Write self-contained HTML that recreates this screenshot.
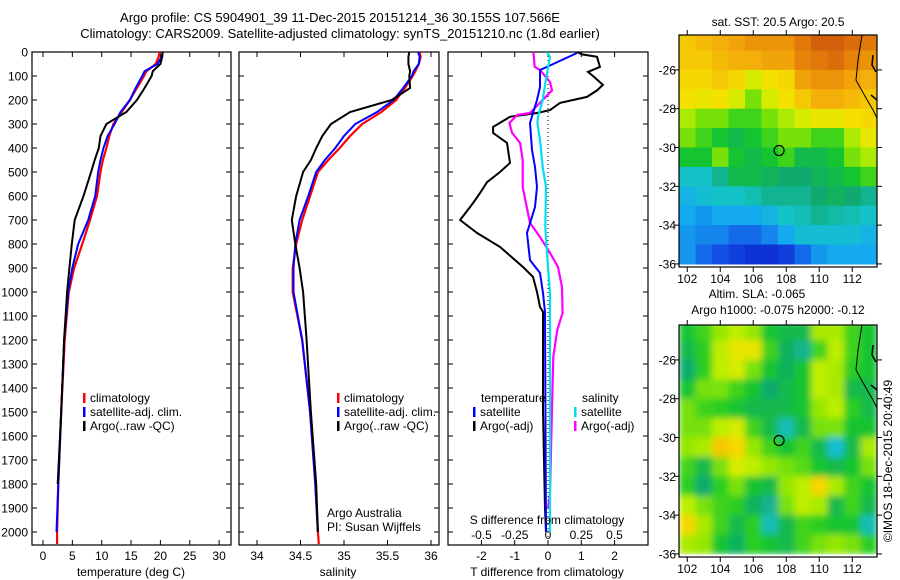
<!DOCTYPE html>
<html><head><meta charset="utf-8"><style>
html,body{margin:0;padding:0;background:#fff;}
svg{display:block;font-family:"Liberation Sans",sans-serif;}
</style></head><body>
<svg id="chart" width="900" height="580" viewBox="0 0 900 580" xmlns="http://www.w3.org/2000/svg">
<defs>
<clipPath id="clipP1"><rect x="32" y="52" width="199" height="493"/></clipPath>
<clipPath id="clipP2"><rect x="239" y="52" width="200" height="493"/></clipPath>
<clipPath id="clipP3"><rect x="448" y="52" width="200" height="493"/></clipPath>
<clipPath id="clipM1"><rect x="679" y="35" width="198" height="232"/></clipPath>
<clipPath id="clipM2"><rect x="679" y="325" width="198" height="232"/></clipPath>
<filter id="blurF" x="0" y="0" width="100%" height="100%"><feGaussianBlur stdDeviation="3.5" edgeMode="duplicate"/></filter>
</defs>
<text x="340" y="22" font-size="13" text-anchor="middle">Argo profile: CS 5904901_39 11-Dec-2015 20151214_36 30.155S 107.566E</text>
<text x="340" y="38" font-size="13" text-anchor="middle">Climatology: CARS2009. Satellite-adjusted climatology: synTS_20151210.nc (1.8d earlier)</text>
<g id="g1"></g>
<g id="g2"></g>
<g id="g3"></g>
<g id="m1"></g>
<g id="m2"></g>
<text transform="translate(892,461) rotate(-90)" font-size="12" text-anchor="middle">©IMOS 18-Dec-2015 20:40:49</text>
</svg>
<script>
// ---- profile data ----
const depths = [0,20,50,80,100,150,200,250,300,350,400,450,500,600,700,800,900,1000,1200,1500,1800,2000,2050];
const tempClim = [19.9,19.7,19.2,17.6,17.2,16.0,14.8,13.4,12.0,11.3,10.8,10.2,9.8,9.2,8.0,6.7,5.3,4.4,3.7,3.1,2.6,2.4,2.4];
const tempSat  = [20.4,20.2,19.5,17.3,16.9,15.8,14.8,13.2,12.2,11.0,10.3,9.8,9.4,8.9,7.7,6.0,5.0,4.3,3.6,3.1,2.6,2.3,null];
const tempArgo = [20.4,20.3,20.0,18.7,18.5,17.3,16.0,14.2,10.8,9.8,9.5,8.8,8.2,6.9,5.4,4.9,4.5,4.1,3.6,3.1,2.5,null,null];
const salClim = [35.87,35.88,35.86,35.82,35.79,35.70,35.60,35.43,35.21,35.07,34.95,34.82,34.70,34.61,34.52,34.45,34.41,34.41,34.52,34.61,34.67,34.70,34.71];
const salSat  = [35.85,35.87,35.86,35.80,35.78,35.68,35.57,35.38,35.13,35.00,34.90,34.78,34.68,34.59,34.49,34.44,34.42,34.42,34.52,34.61,34.67,34.70,null];
const salArgo = [35.75,35.74,35.74,35.76,35.75,35.76,35.55,35.07,34.85,34.75,34.68,34.62,34.53,34.45,34.40,34.44,34.49,34.53,34.57,34.62,34.68,34.70,null];
// ---- difference data ----
const dTargoDepth = [0,10,20,62,83,100,137,160,187,200,212,242,254,270,312,337,379,462,500,542,587,629,700,754,812,896,937,1000,1062,1083,1500,1900,2000];
const dTargo = [0.87,1.02,1.47,1.56,1.20,1.35,1.65,1.47,1.17,0.75,0.36,0.06,-0.33,-1.14,-1.65,-1.65,-1.23,-1.14,-1.44,-1.83,-2.04,-2.25,-2.64,-2.13,-1.44,-0.75,-0.45,-0.33,-0.24,-0.15,-0.15,-0.09,-0.06];
const dTsatDepth = [4,62,75,146,200,254,296,408,479,562,646,754,867,921,1004,1083,2000];
const dTsat = [0.87,-0.03,-0.24,-0.24,-0.33,-0.45,-0.54,-0.48,-0.39,-0.33,-0.39,-0.63,-0.54,-0.24,-0.15,-0.09,-0.06];
const dSsatDepth = [0,20,129,200,270,296,367,479,562,729,896,1004,1150,2000];
const dSsat = [-0.01,0.015,-0.02,-0.04,-0.075,-0.08,-0.06,-0.04,-0.015,-0.02,0,0.015,0.015,0.015];
const dSargoDepth = [0,62,75,125,160,200,254,262,296,337,379,450,562,646,712,771,837,896,979,1087,1158,1271,1487,1837,1900];
const dSargo = [-0.11,-0.10,-0.06,0.015,0.03,-0.04,-0.135,-0.23,-0.29,-0.27,-0.21,-0.19,-0.19,-0.16,-0.135,-0.06,0.015,0.075,0.105,0.11,0.07,0.04,0.03,0.015,0];
// ---- map data (colour index 0..1, rows north->south, lat -24.5..-35.5; cols lon 102..113) ----
const sstGrid = [
[0.75,0.78,0.8,0.82,0.85,0.85,0.85,0.9,0.95,0.95,0.92,0.9],
[0.75,0.75,0.78,0.8,0.8,0.82,0.82,0.88,0.9,0.92,0.88,0.85],
[0.72,0.72,0.75,0.72,0.65,0.7,0.72,0.82,0.85,0.85,0.82,0.8],
[0.7,0.68,0.7,0.65,0.55,0.65,0.7,0.75,0.8,0.8,0.78,0.75],
[0.6,0.55,0.55,0.5,0.5,0.55,0.6,0.65,0.68,0.68,0.7,0.72],
[0.55,0.5,0.45,0.42,0.45,0.5,0.55,0.55,0.5,0.5,0.6,0.68],
[0.45,0.45,0.55,0.45,0.42,0.45,0.5,0.42,0.42,0.45,0.55,0.6],
[0.3,0.3,0.35,0.42,0.42,0.4,0.38,0.38,0.4,0.42,0.45,0.5],
[0.25,0.28,0.3,0.3,0.32,0.35,0.35,0.35,0.38,0.4,0.38,0.35],
[0.22,0.2,0.22,0.22,0.22,0.25,0.3,0.32,0.35,0.33,0.32,0.3],
[0.2,0.18,0.18,0.15,0.15,0.18,0.22,0.28,0.28,0.28,0.28,0.25],
[0.2,0.15,0.12,0.08,0.05,0.05,0.08,0.15,0.2,0.22,0.22,0.22]];
const slaGrid = [
[0.45,0.5,0.58,0.62,0.58,0.45,0.42,0.42,0.6,0.6,0.5,0.45],
[0.42,0.48,0.62,0.68,0.68,0.5,0.4,0.35,0.5,0.62,0.5,0.45],
[0.38,0.48,0.62,0.65,0.55,0.45,0.4,0.45,0.62,0.6,0.48,0.45],
[0.45,0.55,0.55,0.5,0.45,0.38,0.42,0.45,0.62,0.6,0.42,0.42],
[0.55,0.5,0.48,0.45,0.42,0.42,0.42,0.45,0.58,0.62,0.48,0.42],
[0.55,0.55,0.62,0.65,0.5,0.42,0.32,0.42,0.55,0.55,0.45,0.45],
[0.58,0.6,0.75,0.72,0.58,0.5,0.45,0.5,0.42,0.28,0.42,0.6],
[0.5,0.42,0.55,0.65,0.62,0.58,0.55,0.52,0.45,0.42,0.45,0.55],
[0.48,0.38,0.48,0.55,0.45,0.42,0.58,0.62,0.72,0.6,0.5,0.45],
[0.62,0.55,0.5,0.48,0.4,0.35,0.55,0.62,0.6,0.42,0.5,0.42],
[0.72,0.6,0.5,0.42,0.48,0.32,0.42,0.5,0.48,0.45,0.45,0.32],
[0.6,0.58,0.45,0.4,0.48,0.45,0.42,0.5,0.55,0.58,0.55,0.48]];
const gridLons = [102,103,104,105,106,107,108,109,110,111,112,113];
const gridLats = [-24.5,-25.5,-26.5,-27.5,-28.5,-29.5,-30.5,-31.5,-32.5,-33.5,-34.5,-35.5];
const argoLon = 107.566, argoLat = -30.155;
const depthTicks = [0,100,200,300,400,500,600,700,800,900,1000,1100,1200,1300,1400,1500,1600,1700,1800,1900,2000];
const tempTicks = [0,5,10,15,20,25,30];
const salTicks = [34,34.5,35,35.5,36];
const tdTicks = [-2,-1,0,1,2];
const sdTicks = [-0.5,-0.25,0,0.25,0.5];
const lonTicks = [102,104,106,108,110,112];
const latTicks = [-26,-28,-30,-32,-34,-36];

const NS='http://www.w3.org/2000/svg';
function mk(tag, attrs, parent){const e=document.createElementNS(NS,tag);for(const k in attrs)e.setAttribute(k,attrs[k]);parent.appendChild(e);return e;}
function txt(s, attrs, parent){const e=mk('text',attrs,parent);e.textContent=s;return e;}

const yD = d => 52 + d*0.24;
const xT = t => 43 + (t-0)*5.87;
const xS = s => 257 + (s-34)*87;
const xTd = t => 548 + t*33.3;
const xSd = s => 548 + s*133;

function line(parent, xs, ds, xf, color, name, clip, w){
  let pts=[];
  for(let i=0;i<xs.length;i++){ if(xs[i]==null) continue; pts.push(xf(xs[i]).toFixed(1)+','+yD(ds[i]).toFixed(1)); }
  const p=mk('polyline',{points:pts.join(' '),fill:'none',stroke:color,'stroke-width':w||2,'clip-path':clip},parent);
  
  
}
function frame(parent,x,y,w,h,name){
  const r=mk('rect',{x:x,y:y,width:w,height:h,fill:'none',stroke:'#000','stroke-width':1.2},parent);
  
  
}
function depthTickMarks(parent,x0,x1,labels){
  depthTicks.forEach(d=>{
    const y=yD(d);
    mk('line',{x1:x0,y1:y,x2:x0+5,y2:y,stroke:'#000'},parent);
    mk('line',{x1:x1-5,y1:y,x2:x1,y2:y,stroke:'#000'},parent);
    if(labels){const t=txt(String(d),{x:28,y:y+4.5,'font-size':12,'text-anchor':'end'},parent);
      
      }
  });
}
function xTickMarks(parent,ticks,xf,yTop,yBot,labelY){
  ticks.forEach(v=>{
    const x=xf(v);
    mk('line',{x1:x,y1:yTop,x2:x,y2:yTop+5,stroke:'#000'},parent);
    mk('line',{x1:x,y1:yBot-5,x2:x,y2:yBot,stroke:'#000'},parent);
    const t=txt(String(v),{x:x,y:labelY,'font-size':12,'text-anchor':'middle'},parent);
    
    
  });
}
function legend(parent,x,y,color,label){
  const g=mk('g',{},parent);
  
  
  mk('rect',{x:x,y:y-9,width:2.5,height:10,fill:color},g);
  txt(label,{x:x+7,y:y,'font-size':12},g);
}

// Panel 1
const g1=document.getElementById('g1');
frame(g1,32,52,199,493,'temperature-plot-frame');
depthTickMarks(g1,32,231,true);
xTickMarks(g1,tempTicks,xT,52,545,560);
line(g1,tempClim,depths,xT,'#ff0000','temp-climatology-line','url(#clipP1)',2.2);
line(g1,tempSat,depths,xT,'#0000ff','temp-satellite-line','url(#clipP1)',2);
line(g1,tempArgo,depths,xT,'#000000','temp-argo-line','url(#clipP1)',2);
txt('temperature (deg C)',{x:131,y:576,'font-size':12,'text-anchor':'middle',},g1);
legend(g1,83,402,'#ff0000','climatology');
legend(g1,83,416,'#0000ff','satellite-adj. clim.');
legend(g1,83,430,'#000000','Argo(..raw -QC)');

// Panel 2
const g2=document.getElementById('g2');
frame(g2,239,52,200,493,'salinity-plot-frame');
depthTickMarks(g2,239,439,false);
xTickMarks(g2,salTicks,xS,52,545,560);
line(g2,salClim,depths,xS,'#ff0000','salinity-climatology-line','url(#clipP2)',2.2);
line(g2,salSat,depths,xS,'#0000ff','salinity-satellite-line','url(#clipP2)',2);
line(g2,salArgo,depths,xS,'#000000','salinity-argo-line','url(#clipP2)',2);
txt('salinity',{x:338,y:576,'font-size':12,'text-anchor':'middle',},g2);
legend(g2,337,402,'#ff0000','climatology');
legend(g2,337,416,'#0000ff','satellite-adj. clim.');
legend(g2,337,430,'#000000','Argo(..raw -QC)');
txt('Argo Australia',{x:327,y:517,'font-size':12,},g2);
txt('PI: Susan Wijffels',{x:327,y:531,'font-size':12,},g2);

// Panel 3
const g3=document.getElementById('g3');
frame(g3,448,52,200,493,'difference-plot-frame');
depthTickMarks(g3,448,648,false);
xTickMarks(g3,tdTicks,xTd,52,545,560);
sdTicks.forEach(v=>{const t=txt(String(v),{x:xSd(v),y:539,'font-size':12,'text-anchor':'middle'},g3);
  
  });
mk('line',{x1:548,y1:52,x2:548,y2:545,stroke:'#000','stroke-dasharray':'1,3',},g3);
line(g3,dTargo,dTargoDepth,xTd,'#000000','t-diff-argo-line','url(#clipP3)',2);
line(g3,dSargo,dSargoDepth,xSd,'#ff00ff','s-diff-argo-line','url(#clipP3)',2.2);
line(g3,dTsat,dTsatDepth,xTd,'#0000ff','t-diff-satellite-line','url(#clipP3)',2);
line(g3,dSsat,dSsatDepth,xSd,'#00e0f0','s-diff-satellite-line','url(#clipP3)',2.2);
txt('temperature',{x:481,y:402,'font-size':12,},g3);
legend(g3,473,416,'#0000ff','satellite');
legend(g3,473,430,'#000000','Argo(-adj)');
txt('salinity',{x:582,y:402,'font-size':12,},g3);
legend(g3,574,416,'#00e0f0','satellite');
legend(g3,574,430,'#ff00ff','Argo(-adj)');
txt('S difference from climatology',{x:547,y:524,'font-size':12,'text-anchor':'middle',},g3);
txt('T difference from climatology',{x:547,y:576,'font-size':12,'text-anchor':'middle',},g3);

// colormap
const cstops=[[0,[10,30,200]],[0.12,[20,80,230]],[0.22,[20,170,240]],[0.3,[20,195,200]],[0.38,[16,170,110]],[0.46,[20,200,40]],[0.55,[120,225,10]],[0.63,[200,240,0]],[0.7,[245,225,0]],[0.8,[245,175,10]],[0.9,[225,120,10]],[1,[195,70,10]]];
function cmap(v){
  for(let i=1;i<cstops.length;i++){ if(v<=cstops[i][0]){const a=cstops[i-1],b=cstops[i];const f=(v-a[0])/(b[0]-a[0]);
    const c=a[1].map((q,j)=>Math.round(q+(b[1][j]-q)*f));return 'rgb('+c.join(',')+')';}}
  return 'rgb(195,70,10)';
}
function drawMap(gid,top,grid,blur,titles,name){
  const g=document.getElementById(gid);
  const xL = lon => 679 + (lon-101.5)*16.5;
  const yL = lat => top + 35 + (-24.2-lat)*19.4;
  const clip = gid==='m1'?'url(#clipM1)':'url(#clipM2)';
  const cg=mk('g',{'clip-path':clip},g);
  const inner=mk('g',blur?{filter:'url(#blurF)'}:{},cg);
  for(let r=0;r<gridLats.length;r++){for(let c=0;c<gridLons.length;c++){
    const x0=xL(gridLons[c]-0.5), y0=yL(gridLats[r]+0.5);
    const cell=mk('rect',{x:x0.toFixed(1),y:y0.toFixed(1),width:(16.5+0.6).toFixed(1),height:(19.4+0.6).toFixed(1),fill:cmap(grid[r][c])},inner);
    
    
  }}
  const coast=mk('path',{d:'M862,'+(top+35)+' L858,'+(top+60)+' L856,'+(top+80)+' L866,'+(top+98)+' L873,'+(top+110)+' L877,'+(top+118),fill:'none',stroke:'#000','stroke-width':1},cg);
  
  
  mk('path',{d:'M873,'+(top+55)+' L872,'+(top+65)+' L876,'+(top+72)+' M871,'+(top+95)+' L877,'+(top+100),fill:'none',stroke:'#000','stroke-width':1.5},cg);
  frame(g,679,top+35,198,232,name+'-frame');
  lonTicks.forEach(lon=>{const x=xL(lon);
    mk('line',{x1:x,y1:top+30,x2:x,y2:top+35,stroke:'#000'},g);
    mk('line',{x1:x,y1:top+267,x2:x,y2:top+272,stroke:'#000'},g);
    const t=txt(String(lon),{x:x,y:top+283,'font-size':12,'text-anchor':'middle'},g);
    
    });
  latTicks.forEach(lat=>{const y=yL(lat);
    mk('line',{x1:674,y1:y,x2:679,y2:y,stroke:'#000'},g);
    mk('line',{x1:877,y1:y,x2:882,y2:y,stroke:'#000'},g);
    const t=txt(String(lat),{x:676,y:y+4.5,'font-size':12,'text-anchor':'end'},g);
    
    });
  const m=mk('circle',{cx:xL(argoLon),cy:yL(argoLat),r:5,fill:'none',stroke:'#000','stroke-width':1.2},g);
  
  
  titles.forEach(t=>{const e=txt(t[0],{x:t[1],y:t[2],'font-size':12,'text-anchor':'middle'},g);
    
    });
}
drawMap('m1',0,sstGrid,false,[['sat. SST: 20.5 Argo: 20.5',778,26]],'sst-map');
drawMap('m2',290,slaGrid,true,[['Altim. SLA: -0.065',757,298],['Argo h1000: -0.075 h2000: -0.12',778,314]],'sla-map');
</script>
</body></html>
